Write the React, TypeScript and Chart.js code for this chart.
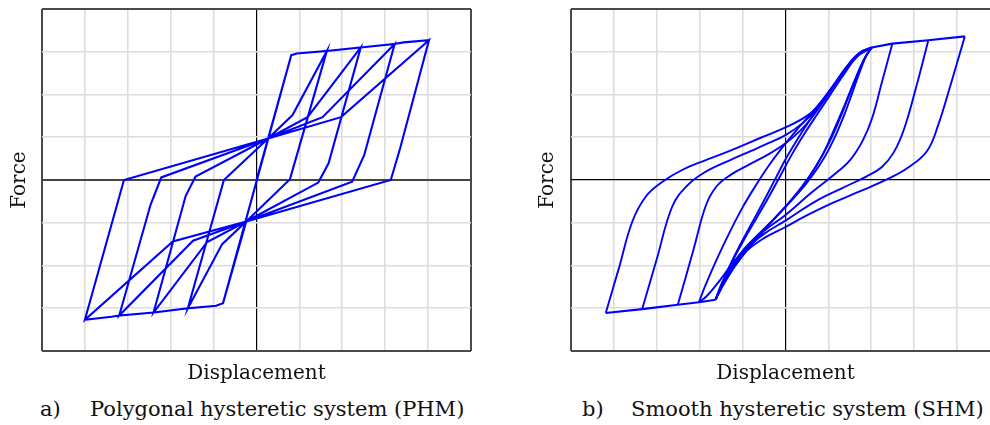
import React, { useEffect, useRef } from "react";
import { Chart, registerables } from "chart.js";

Chart.register(...registerables);

// ---------- axes ----------
const X_MIN = -5;
const X_MAX = 5;
const Y_MIN = -4;
const Y_MAX = 4;
const xTitle = "Displacement";
const yTitle = "Force";
const captionLabels = ["a)", "b)"];
const captionTexts = ["Polygonal hysteretic system (PHM)", "Smooth hysteretic system (SHM)"];

// ---------- a) Polygonal hysteretic model: one continuous path ----------
const phmDisp = [
  0, 0.81, -0.78, 0.81, 0.94, 1.64,
  0.78, -0.24, -0.78, -0.94, -1.6,
  -0.76, 0.27, 0.84, 1.64,
  0.78, -0.24, -0.8, -1.6,
  -0.76, 0.27, 0.84, 1.64,
  2.43,
  1.68, 1.44, -0.24, -0.8, -1.6, -2.4,
  -1.65, -1.42, 0.27, 1.19, 2.43,
  1.68, 1.44, -0.24, -1.15, -2.4,
  -1.65, -1.42, 0.27, 1.19, 2.43,
  3.22,
  2.51, 2.23, -0.24, -1.15, -2.4, -3.2,
  -2.47, -2.22, 0.27, 1.54, 3.22,
  2.51, 2.23, -0.24, -1.48, -3.2,
  -2.47, -2.22, 0.27, 1.54, 3.22,
  3.43, 4.02,
  3.35, 3.13, -0.24, -1.48, -3.2, -3.38, -4.0,
  -3.09, 0.27, 1.97, 4.02,
  3.35, 3.13, -0.24, -1.95, -4.0,
  -3.09, 0.27, 1.97, 4.02,
];
const phmForce = [
  0, 2.92, -2.88, 2.92, 2.96, 3.02,
  0.02, -0.97, -2.88, -2.94, -3.0,
  0, 0.97, 1.52, 3.02,
  0.02, -0.97, -1.5, -3.0,
  0, 0.97, 1.52, 3.02,
  3.1,
  0.39, -0.06, -0.97, -1.5, -3.0, -3.1,
  -0.37, 0.08, 0.97, 1.47, 3.1,
  0.39, -0.06, -0.97, -1.45, -3.1,
  -0.37, 0.08, 0.97, 1.47, 3.1,
  3.18,
  0.58, -0.04, -0.97, -1.45, -3.1, -3.17,
  -0.58, 0.06, 0.97, 1.47, 3.18,
  0.58, -0.04, -0.97, -1.42, -3.17,
  -0.58, 0.06, 0.97, 1.47, 3.18,
  3.22, 3.27,
  0.75, 0, -0.97, -1.42, -3.17, -3.2, -3.27,
  0, 0.97, 1.47, 3.27,
  0.75, 0, -0.97, -1.44, -3.27,
  0, 0.97, 1.47, 3.27,
];

// ---------- b) Smooth hysteretic model: branches [disp, force] ----------
const shmTopBackbone: [number, number][] = [[2.01, 3.1], [2.49, 3.19], [3.33, 3.27], [4.18, 3.36]];
const shmBottomBackbone: [number, number][] = [[-1.63, -2.8], [-2.02, -2.86], [-2.51, -2.92], [-3.34, -3.02], [-4.19, -3.11]];
const shmUp5: [number, number][] = [[-4.19, -3.11], [-3.88, -2.05], [-3.57, -0.97], [-3.25, -0.38], [-2.85, -0.03], [-2.4, 0.24], [-1.9, 0.45], [-1.3, 0.68], [-0.55, 1.0], [0, 1.23], [0.5, 1.5], [0.82, 1.8], [1.12, 2.22], [1.42, 2.64], [1.72, 2.97], [2.01, 3.1]];
const shmUp4: [number, number][] = [[-3.34, -3.02], [-3.0, -1.85], [-2.64, -0.62], [-2.3, -0.14], [-1.9, 0.17], [-1.3, 0.46], [-0.8, 0.68], [-0.4, 0.86], [0, 1.05], [0.4, 1.33], [0.75, 1.68], [1.07, 2.14], [1.4, 2.62], [1.72, 2.97], [2.01, 3.1]];
const shmUp3: [number, number][] = [[-2.51, -2.92], [-2.15, -1.65], [-1.85, -0.58], [-1.6, -0.14], [-1.28, 0.12], [-0.85, 0.36], [-0.4, 0.6], [0, 0.86], [0.35, 1.16], [0.66, 1.52], [0.98, 1.98], [1.32, 2.47], [1.66, 2.9], [2.01, 3.1]];
const shmUpS1: [number, number][] = [[-1.63, -2.8], [-1.52, -2.5], [-1.32, -2.05], [-1.06, -1.52], [-0.78, -1.0], [-0.5, -0.48], [-0.24, 0.02], [0.02, 0.52], [0.32, 1.02], [0.62, 1.48], [0.96, 1.97], [1.3, 2.45], [1.65, 2.88], [2.01, 3.1]];
const shmUpS2: [number, number][] = [[-2.02, -2.86], [-1.86, -2.45], [-1.6, -1.85], [-1.3, -1.22], [-1.0, -0.64], [-0.7, -0.14], [-0.4, 0.32], [-0.06, 0.78], [0.32, 1.24], [0.72, 1.7], [1.08, 2.16], [1.42, 2.6], [1.74, 2.95], [2.01, 3.1]];
const shmUpS3: [number, number][] = [[-1.63, -2.8], [-1.48, -2.42], [-1.25, -1.92], [-0.98, -1.42], [-0.68, -0.9], [-0.38, -0.38], [-0.12, 0.1], [0.15, 0.6], [0.44, 1.08], [0.74, 1.54], [1.06, 2.02], [1.38, 2.5], [1.7, 2.92], [2.01, 3.1]];
const shmDnS1: [number, number][] = [[2.01, 3.1], [1.85, 2.86], [1.66, 2.42], [1.46, 1.92], [1.26, 1.42], [1.02, 0.88], [0.72, 0.34], [0.38, -0.16], [0.02, -0.6], [-0.38, -1.04], [-0.78, -1.5], [-1.14, -1.96], [-1.42, -2.4], [-1.58, -2.7], [-1.63, -2.8]];
const shmDnS2: [number, number][] = [[2.01, 3.1], [1.82, 2.8], [1.6, 2.3], [1.38, 1.76], [1.15, 1.22], [0.88, 0.62], [0.55, 0.06], [0.16, -0.44], [-0.28, -0.92], [-0.74, -1.38], [-1.18, -1.88], [-1.54, -2.36], [-1.84, -2.72], [-2.02, -2.86]];
const shmDnS3: [number, number][] = [[2.01, 3.1], [1.88, 2.9], [1.72, 2.5], [1.55, 2.02], [1.36, 1.5], [1.12, 0.94], [0.84, 0.42], [0.5, -0.06], [0.12, -0.5], [-0.3, -0.95], [-0.72, -1.42], [-1.1, -1.9], [-1.4, -2.36], [-1.58, -2.68], [-1.63, -2.8]];
const shmDn3: [number, number][] = [[2.49, 3.19], [2.25, 2.3], [2.02, 1.45], [1.8, 0.92], [1.5, 0.46], [1.1, 0.1], [0.6, -0.3], [0, -0.82], [-0.45, -1.15], [-0.88, -1.52], [-1.24, -2.0], [-1.48, -2.44], [-1.63, -2.8]];
const shmDn4: [number, number][] = [[3.33, 3.27], [3.05, 2.19], [2.76, 1.18], [2.52, 0.64], [2.24, 0.3], [1.88, 0.08], [1.3, -0.2], [0.7, -0.5], [0, -0.95], [-0.5, -1.26], [-0.92, -1.62], [-1.27, -2.1], [-1.5, -2.5], [-1.63, -2.8]];
const shmDn5: [number, number][] = [[4.18, 3.36], [3.87, 2.3], [3.55, 1.26], [3.3, 0.68], [2.86, 0.29], [2.4, 0.03], [1.7, -0.28], [1.0, -0.58], [0.45, -0.85], [0, -1.1], [-0.5, -1.36], [-0.95, -1.7], [-1.3, -2.16], [-1.52, -2.56], [-1.63, -2.8]];

const shmCurves = [shmUp5, shmUp4, shmUp3, shmUpS1, shmUpS2, shmUpS3, shmDnS1, shmDnS2, shmDnS3, shmDn3, shmDn4, shmDn5];
const shmStraight = [shmTopBackbone, shmBottomBackbone];

const BLUE = "#0000ff";
const FONT = "'DejaVu Serif', 'Liberation Serif', serif";
const TEXT = "#111111";

function lineSet(points: { x: number; y: number }[], tension: number, width: number) {
  return {
    data: points,
    showLine: true,
    borderColor: BLUE,
    backgroundColor: BLUE,
    borderWidth: width,
    pointRadius: 0,
    pointHoverRadius: 0,
    tension,
    fill: false,
  };
}

type PanelProps = {
  datasets: any[];
  width: number;
  height: number;
  padLeft: number;
  padRight: number;
  yPadBottom: number;
  zeroYColor: string;
  zeroYWidth: number;
};

function Panel({ datasets, width, height, padLeft, padRight, yPadBottom, zeroYColor, zeroYWidth }: PanelProps) {
  const ref = useRef<HTMLCanvasElement>(null);
  useEffect(() => {
    const frame = "#4a4a4a";
    const light = "#dddddd";
    const chart = new Chart(ref.current as HTMLCanvasElement, {
      type: "scatter",
      data: { datasets },
      options: {
        animation: false,
        responsive: false,
        devicePixelRatio: 1,
        events: [],
        layout: { padding: { left: padLeft, right: padRight, top: 9, bottom: 0 } },
        plugins: { legend: { display: false }, tooltip: { enabled: false }, title: { display: false } },
        scales: {
          x: {
            type: "linear",
            min: X_MIN,
            max: X_MAX,
            ticks: { display: false, stepSize: 1 },
            border: { display: false },
            grid: {
              drawTicks: false,
              color: (c: any) => {
                const v = c.tick ? c.tick.value : null;
                if (v === 0) return "#000000";
                if (v === X_MIN || v === X_MAX) return frame;
                return light;
              },
              lineWidth: (c: any) => {
                const v = c.tick ? c.tick.value : null;
                if (v === 0) return 1.2;
                if (v === X_MIN || v === X_MAX) return 2;
                return 1.6;
              },
            },
            title: {
              display: true,
              text: xTitle,
              color: TEXT,
              font: { family: FONT, size: 20 },
              padding: { top: 11, bottom: 9 },
            },
          },
          y: {
            type: "linear",
            min: Y_MIN,
            max: Y_MAX,
            ticks: { display: false, stepSize: 1 },
            border: { display: false },
            grid: {
              drawTicks: false,
              color: (c: any) => {
                const v = c.tick ? c.tick.value : null;
                if (v === 0) return zeroYColor;
                if (v === Y_MIN || v === Y_MAX) return frame;
                return light;
              },
              lineWidth: (c: any) => {
                const v = c.tick ? c.tick.value : null;
                if (v === 0) return zeroYWidth;
                if (v === Y_MIN || v === Y_MAX) return 2;
                return 1.6;
              },
            },
            title: {
              display: true,
              text: yTitle,
              color: TEXT,
              font: { family: FONT, size: 20 },
              padding: { top: 8, bottom: yPadBottom },
            },
          },
        },
      } as any,
    });
    return () => chart.destroy();
  }, []);
  return <canvas ref={ref} width={width} height={height} style={{ width, height, display: "block" }} />;
}

export default function App() {
  const phmPoints = phmDisp.map((x, i) => ({ x, y: phmForce[i] }));
  const phmSets = [lineSet(phmPoints, 0, 2.1)];

  const toPts = (arr: [number, number][]) => arr.map(([x, y]) => ({ x, y }));
  const shmSets = [
    ...shmStraight.map((b) => lineSet(toPts(b), 0, 2.1)),
    ...shmCurves.map((b) => lineSet(toPts(b), 0.4, 1.9)),
  ];

  const captionStyle: React.CSSProperties = {
    position: "absolute",
    top: 397,
    fontFamily: FONT,
    fontSize: 21,
    lineHeight: "25px",
    color: TEXT,
    whiteSpace: "nowrap",
  };

  return (
    <div style={{ position: "absolute", left: 0, top: 0, width: 990, height: 425, overflow: "hidden", background: "#fff" }}>
      <div style={{ position: "absolute", left: 0, top: 0 }}>
        <Panel datasets={phmSets} width={495} height={395} padLeft={0} padRight={24} yPadBottom={10} zeroYColor="#444444" zeroYWidth={2} />
      </div>
      <div style={{ position: "absolute", left: 495, top: 0 }}>
        <Panel datasets={shmSets} width={530} height={395} padLeft={33} padRight={25} yPadBottom={11} zeroYColor="#000000" zeroYWidth={1.3} />
      </div>
      <div style={{ ...captionStyle, left: 40 }}>{captionLabels[0]}</div>
      <div style={{ ...captionStyle, left: 90 }}>{captionTexts[0]}</div>
      <div style={{ ...captionStyle, left: 582 }}>{captionLabels[1]}</div>
      <div style={{ ...captionStyle, left: 631 }}>{captionTexts[1]}</div>
    </div>
  );
}
